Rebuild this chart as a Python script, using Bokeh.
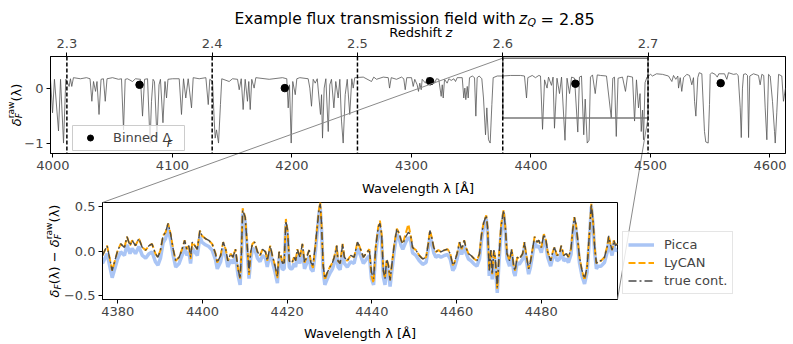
import math
from bokeh.plotting import figure
from bokeh.models import Range1d, FixedTicker, Span, Legend, LegendItem, LinearAxis
from bokeh.embed import file_html
from bokeh.resources import INLINE
from bokeh.core.properties import value

FONT = "DejaVu Sans"
LYA = 1215.67

# ---------------- data: raw flux-transmission field (top panel) ----------------
wave_a = [3998.0, 3999.7, 4001.3, 4004.7, 4006.4, 4008.9, 4010.8, 4013.6, 4014.7, 4015.8,
          4017.2, 4023.1, 4028.1, 4031.1, 4032.6, 4034.0, 4035.7, 4036.9, 4038.6, 4040.3,
          4042.3, 4043.8, 4045.3, 4049.9, 4054.9, 4057.4, 4059.1, 4060.5, 4062.4, 4066.6,
          4069.1, 4073.3, 4075.0, 4076.7, 4079.2, 4081.3, 4082.5, 4083.8, 4085.0, 4087.1,
          4088.8, 4090.0, 4092.1, 4093.8, 4095.1, 4096.3, 4100.1]
delta_a = [0.16, -0.45, 0.16, -0.78, 0.16, -1.0, 0.16, 0.03, 0.17, 0.03,
           0.19, 0.17, 0.19, 0.17, -0.24, 0.12, -0.06, 0.12, -0.48, 0.16,
           0.17, -0.24, 0.17, 0.19, 0.16, 0.17, -0.76, 0.16, 0.17, 0.12,
           0.17, 0.16, -0.51, 0.16, 0.17, -1.0, -0.24, 0.16, 0.12, -0.91,
           0.06, 0.16, -0.63, 0.12, -0.18, 0.16, 0.17]
wave_b = [4105.7, 4107.6, 4109.3, 4111.2, 4113.2, 4116.0, 4117.4, 4122.4, 4128.0, 4130.0,
          4131.3, 4133.6, 4135.0, 4135.8, 4136.9, 4138.6, 4140.2, 4141.3, 4147.5, 4150.3,
          4154.5, 4155.9, 4157.6, 4159.2, 4160.9, 4162.8, 4163.9, 4165.1, 4166.4, 4168.4,
          4169.8, 4181.0, 4192.1, 4195.7, 4196.9, 4198.0, 4199.4, 4200.7, 4202.8, 4204.1]
delta_b = [0.17, -0.48, 0.17, -0.18, 0.17, -0.36, 0.19, 0.17, 0.19, -0.30,
           0.16, 0.12, -0.60, -0.91, -0.76, -1.0, -0.30, 0.17, 0.12, 0.17,
           0.16, -0.03, 0.17, -0.39, 0.16, -0.24, 0.12, -0.39, 0.16, 0.0,
           0.19, 0.16, 0.19, 0.17, -0.36, 0.06, -1.0, 0.12, -0.12, 0.17]
wave_c = [4206.6, 4213.6, 4215.0, 4216.4, 4217.8, 4219.5, 4221.2, 4223.9, 4224.8, 4225.6,
          4227.0, 4228.4, 4230.4, 4231.7, 4233.1, 4235.1, 4236.7, 4238.7, 4240.1, 4241.5,
          4242.9, 4244.6, 4246.3, 4248.4, 4250.1, 4251.3, 4252.6, 4259.7, 4266.6, 4268.5,
          4270.8, 4276.4, 4280.6, 4281.7, 4283.1, 4287.5, 4291.7, 4293.6, 4294.8, 4296.1,
          4300.1, 4301.5, 4302.8, 4304.8, 4305.9, 4307.0, 4308.2]
delta_c = [0.19, 0.17, 0.0, -0.33, 0.16, 0.09, 0.17, -0.48, -0.12, -0.91,
           0.0, 0.17, -0.79, 0.06, 0.16, -0.36, 0.12, -0.18, 0.16, -0.60,
           -1.0, -0.12, 0.16, -0.48, 0.17, 0.0, 0.19, 0.20, 0.12, 0.20,
           0.16, 0.20, 0.19, 0.0, 0.19, 0.16, 0.20, 0.17, -0.03, 0.19,
           0.19, 0.03, 0.16, 0.06, -0.06, 0.09, -0.03]
wave_d = [4309.0, 4311.8, 4313.2, 4317.4, 4319.3, 4321.0, 4322.9, 4324.9, 4325.8, 4326.6,
          4327.7, 4329.9, 4331.3, 4333.3, 4335.5, 4336.9, 4338.3, 4342.5, 4343.8, 4344.7,
          4345.5, 4346.7, 4347.5, 4348.6, 4350.9, 4352.8, 4353.9, 4355.0, 4356.7, 4358.9,
          4360.3, 4362.0, 4363.1, 4364.5, 4365.9, 4367.3, 4368.4, 4371.8, 4376.0, 4382.9,
          4391.3, 4394.6, 4396.3, 4397.4, 4401.1, 4403.8, 4406.6]
delta_d = [0.16, 0.09, 0.19, 0.17, 0.09, 0.17, 0.16, -0.15, 0.06, -0.18,
           0.16, 0.09, 0.17, 0.14, 0.17, 0.12, 0.19, 0.19, -0.18, 0.0,
           -0.21, 0.03, -0.18, 0.19, 0.22, 0.19, -0.51, 0.19, 0.22, 0.17,
           -0.18, -0.85, -0.36, -0.94, -1.0, -0.30, 0.19, 0.22, 0.22, 0.23,
           0.23, 0.22, -0.18, 0.19, 0.23, 0.19, 0.23]
wave_e = [4408.0, 4409.7, 4411.4, 4413.5, 4414.7, 4417.2, 4418.5, 4419.7, 4421.8, 4423.9,
          4425.6, 4428.5, 4430.2, 4432.3, 4434.0, 4436.5, 4439.2, 4440.6, 4442.3, 4444.2,
          4445.4, 4447.1, 4448.6, 4449.8, 4451.5, 4453.8, 4455.5, 4458.2, 4463.2, 4467.2,
          4468.5, 4469.9, 4471.4, 4472.9, 4476.6, 4479.1, 4480.8, 4485.0, 4486.7, 4488.3,
          4490.0, 4491.3, 4492.3, 4493.4, 4494.2, 4495.5, 4497.1, 4500.1]
delta_e = [0.22, -0.75, 0.15, 0.0, 0.20, 0.05, 0.20, -0.73, 0.18, -0.10,
           0.20, -0.95, 0.18, -0.10, 0.20, 0.18, -0.80, 0.20, 0.22, -0.85,
           -0.20, -1.0, -0.95, 0.20, 0.24, -0.10, 0.24, 0.23, 0.22, -0.54,
           0.18, 0.20, -0.88, 0.18, 0.20, -0.06, 0.22, 0.20, -0.60, 0.15,
           -0.36, -0.10, -0.79, -0.40, -0.94, 0.10, 0.20, 0.25]
wave_f = [4501.7, 4505.1, 4510.1, 4515.1, 4517.9, 4519.3, 4521.2, 4522.9, 4523.5, 4524.9,
          4526.2, 4527.7, 4530.4, 4532.7, 4534.6, 4536.0, 4536.9, 4538.0, 4539.6, 4540.8,
          4543.0, 4545.2, 4546.3, 4548.3, 4549.4, 4550.0, 4551.3, 4554.2, 4555.9, 4557.2,
          4562.0, 4563.9, 4565.3, 4569.5, 4572.0, 4573.4, 4575.1, 4576.0, 4577.0, 4577.9,
          4579.8, 4581.2, 4582.1, 4583.1, 4586.2, 4590.4, 4591.8, 4593.2, 4594.8, 4596.0,
          4597.4, 4598.8, 4600.2, 4602.1, 4603.8, 4604.4, 4605.7, 4607.2, 4609.9, 4611.3,
          4613.0]
delta_f = [0.22, 0.26, 0.25, 0.22, 0.12, 0.23, 0.16, 0.22, 0.0, 0.19,
           -0.06, 0.19, 0.25, 0.23, 0.06, 0.19, -0.24, -0.51, 0.19, 0.28,
           0.26, -0.79, -0.98, -1.0, -0.30, 0.25, 0.28, 0.25, 0.20, 0.26,
           0.26, 0.16, 0.28, 0.25, 0.26, 0.23, -0.36, -0.90, 0.0, 0.25,
           0.26, 0.23, -0.90, 0.22, 0.26, 0.23, 0.06, 0.25, 0.23, -0.36,
           -0.94, 0.25, 0.22, -0.24, -0.79, -1.0, -0.45, 0.25, 0.22, -0.24,
           0.0]

bin_z = [2.35, 2.45, 2.55, 2.65, 2.75]
bin_delta = [0.06, 0.0, 0.125, 0.08, 0.09]

z_ticks = [2.3, 2.4, 2.5, 2.6, 2.7]
z_zoom = [2.6, 2.7]
wave_ticks = [4000, 4100, 4200, 4300, 4400, 4500, 4600]
delta_ticks = [-1, 0]
delta_tick_labels = ["\u22121", "0"]

# ---------------- data: zoomed residuals (bottom panel) ----------------
wave_zoom = [4376.4, 4377.5, 4378.7, 4379.9, 4380.7, 4381.6, 4382.2, 4382.9, 4383.4, 4384.2,
             4385.0, 4385.8, 4386.6, 4387.4, 4388.1, 4388.9, 4389.5, 4390.1, 4390.7, 4391.3,
             4391.9, 4392.5, 4393.1, 4393.7, 4394.5, 4395.2, 4395.8, 4396.3, 4396.8, 4397.2,
             4397.6, 4398.2, 4398.8, 4399.4, 4399.9, 4400.7, 4401.5, 4402.3, 4403.1, 4403.5,
             4404.3, 4404.9, 4405.5, 4406.0, 4406.7, 4407.2, 4407.8, 4408.4, 4408.9, 4409.2,
             4409.5, 4410.1, 4410.6, 4411.0, 4411.4, 4411.8, 4412.3, 4413.0, 4413.6, 4414.2,
             4414.9, 4415.3, 4416.0, 4416.5, 4417.1, 4417.7, 4418.1, 4418.5, 4418.9, 4419.3,
             4419.7, 4420.1, 4420.5, 4420.8, 4421.2, 4421.6, 4422.0, 4422.4, 4423.0, 4423.6,
             4424.1, 4424.6, 4425.2, 4425.6, 4426.1, 4426.7, 4427.1, 4427.5, 4427.8, 4428.1,
             4428.5, 4428.9, 4429.5, 4430.1, 4430.7, 4431.1, 4431.7, 4432.0, 4432.5, 4433.1,
             4433.5, 4434.2, 4435.0, 4435.8, 4436.6, 4437.0, 4437.4, 4438.0, 4438.6, 4439.4,
             4439.9, 4440.4, 4440.9, 4441.5, 4441.9, 4442.3, 4442.7, 4443.1, 4443.5, 4443.9,
             4444.3, 4444.6, 4445.3, 4445.9, 4446.5, 4446.9, 4447.3, 4448.0, 4448.6, 4449.1,
             4449.6, 4450.4, 4451.2, 4452.0, 4452.8, 4453.3, 4453.7, 4454.1, 4454.6, 4455.1,
             4455.7, 4456.3, 4457.1, 4457.9, 4458.5, 4459.1, 4459.5, 4460.1, 4460.7, 4461.2,
             4461.8, 4462.2, 4462.8, 4463.4, 4464.2, 4464.8, 4465.4, 4465.9, 4466.4, 4467.0,
             4467.3, 4467.7, 4468.1, 4468.4, 4468.8, 4469.1, 4469.6, 4470.0, 4470.5, 4471.1,
             4471.5, 4471.9, 4472.5, 4473.0, 4473.5, 4473.8, 4474.3, 4474.8, 4475.6, 4476.0,
             4476.4, 4477.0, 4477.4, 4478.0, 4478.4, 4479.0, 4479.4, 4480.0, 4480.6, 4481.1,
             4481.5, 4482.2, 4482.7, 4483.1, 4483.7, 4484.3, 4484.7, 4485.3, 4485.9, 4486.4,
             4487.0, 4487.4, 4487.8, 4488.2, 4488.6, 4489.0, 4489.6, 4490.2, 4490.8, 4491.4,
             4491.8, 4492.2, 4492.6, 4493.0, 4493.4, 4494.1, 4494.9, 4495.6, 4495.9, 4496.3,
             4496.7, 4497.1, 4497.5, 4498.0]
diff_true = [-0.05, 0.06, -0.22, -0.01, 0.08, 0.04, 0.16, 0.06, 0.12, 0.06,
             0.14, 0.04, 0.01, 0.06, 0.08, -0.03, -0.07, 0.01, 0.17, 0.21,
             0.31, 0.19, 0.02, -0.11, -0.07, 0.02, 0.12, 0.02, 0.06, -0.07,
             0.10, 0.06, 0.02, 0.23, 0.17, 0.14, 0.12, 0.08, -0.03, -0.13,
             -0.05, 0.10, 0.02, -0.11, -0.03, -0.07, 0.02, -0.20, -0.31, -0.03,
             0.46, 0.38, 0.04, -0.24, -0.01, 0.08, 0.10, -0.01, -0.05, 0.02,
             -0.01, -0.11, 0.06, -0.05, -0.16, -0.29, -0.01, -0.05, -0.14, -0.13,
             0.34, 0.23, -0.11, -0.13, -0.13, -0.07, -0.11, 0.02, -0.07, 0.08,
             -0.13, -0.07, 0.01, -0.13, -0.16, 0.08, 0.27, 0.46, 0.53, 0.31,
             -0.16, -0.31, -0.24, -0.18, -0.13, -0.07, 0.06, -0.11, -0.14, 0.08,
             -0.07, -0.11, -0.05, -0.07, 0.10, 0.06, 0.01, -0.07, -0.03, 0.02,
             -0.24, -0.31, 0.04, 0.27, 0.31, 0.19, -0.22, -0.31, -0.09, -0.16,
             -0.33, -0.20, 0.08, 0.25, 0.19, 0.12, 0.08, 0.16, 0.21, 0.19,
             0.04, 0.01, -0.05, -0.09, -0.07, 0.08, 0.23, 0.16, 0.04, -0.01,
             0.01, -0.01, 0.01, 0.02, -0.03, -0.16, -0.13, -0.03, 0.10, 0.02,
             0.12, 0.04, -0.03, -0.05, -0.09, -0.11, -0.03, 0.19, 0.32, 0.40,
             0.27, -0.22, 0.01, -0.26, 0.01, -0.07, -0.41, -0.07, 0.27, 0.46,
             0.27, -0.03, -0.11, 0.02, -0.18, -0.22, -0.07, -0.09, -0.03, 0.10,
             -0.03, -0.20, -0.13, 0.04, 0.16, 0.10, 0.12, 0.04, 0.19, 0.12,
             -0.01, -0.11, -0.01, 0.04, -0.05, -0.03, 0.06, -0.05, -0.03, -0.07,
             0.02, 0.23, 0.38, 0.29, 0.12, -0.07, -0.22, -0.31, -0.18, 0.23,
             0.53, 0.34, 0.04, -0.14, -0.11, -0.11, -0.07, 0.06, 0.17, 0.08,
             0.01, 0.12, 0.06, 0.08]
diff_lycan = [-0.05, 0.06, -0.22, -0.01, 0.08, 0.04, 0.16, 0.06, 0.12, 0.06,
              0.14, 0.04, 0.01, 0.06, 0.08, -0.03, -0.07, 0.01, 0.17, 0.21,
              0.31, 0.19, 0.02, -0.11, -0.07, 0.02, 0.12, 0.02, 0.06, -0.09,
              0.10, 0.06, 0.02, 0.23, 0.17, 0.14, 0.12, 0.08, -0.03, -0.13,
              -0.05, 0.10, 0.02, -0.11, -0.03, -0.07, 0.02, -0.20, -0.31, -0.03,
              0.48, 0.38, 0.04, -0.27, -0.01, 0.08, 0.10, -0.01, -0.05, 0.02,
              -0.01, -0.11, 0.06, -0.05, -0.16, -0.31, -0.01, -0.05, -0.14, -0.13,
              0.36, 0.23, -0.11, -0.13, -0.13, -0.07, -0.11, 0.02, -0.07, 0.08,
              -0.13, -0.07, 0.01, -0.13, -0.19, 0.08, 0.27, 0.46, 0.55, 0.31,
              -0.16, -0.33, -0.24, -0.18, -0.13, -0.07, 0.06, -0.11, -0.14, 0.08,
              -0.07, -0.11, -0.05, -0.07, 0.10, 0.06, 0.01, -0.07, -0.03, 0.02,
              -0.28, -0.36, 0.04, 0.27, 0.34, 0.19, -0.22, -0.31, -0.09, -0.16,
              -0.33, -0.20, 0.08, 0.25, 0.19, 0.12, 0.08, 0.20, 0.30, 0.19,
              0.04, 0.01, -0.05, -0.09, -0.07, 0.08, 0.23, 0.16, 0.04, -0.01,
              0.01, -0.01, 0.01, 0.02, -0.03, -0.16, -0.13, -0.03, 0.10, 0.02,
              0.12, 0.04, -0.03, -0.05, -0.09, -0.11, -0.03, 0.19, 0.32, 0.40,
              0.27, -0.22, 0.01, -0.26, 0.01, -0.07, -0.43, -0.07, 0.30, 0.46,
              0.27, -0.03, -0.11, 0.02, -0.18, -0.22, -0.07, -0.09, -0.03, 0.10,
              -0.03, -0.20, -0.13, 0.04, 0.16, 0.10, 0.12, 0.04, 0.19, 0.12,
              -0.01, -0.11, -0.01, 0.04, -0.05, -0.03, 0.06, -0.05, -0.03, -0.07,
              0.02, 0.23, 0.38, 0.29, 0.12, -0.07, -0.22, -0.33, -0.18, 0.23,
              0.53, 0.34, 0.04, -0.14, -0.11, -0.11, -0.07, 0.06, 0.17, 0.08,
              0.01, 0.12, 0.06, 0.08]
diff_picca = [-0.14, -0.03, -0.30, -0.10, -0.01, -0.05, 0.07, -0.03, 0.03, -0.03,
              0.05, -0.05, -0.08, -0.03, -0.01, -0.12, -0.16, -0.08, 0.09, 0.14,
              0.26, 0.12, -0.05, -0.18, -0.14, -0.05, 0.05, -0.05, -0.01, -0.14,
              0.03, -0.01, -0.05, 0.16, 0.10, 0.07, 0.05, 0.01, -0.10, -0.20,
              -0.12, 0.03, -0.05, -0.18, -0.10, -0.14, -0.05, -0.27, -0.38, -0.10,
              0.42, 0.33, -0.03, -0.31, -0.08, 0.01, 0.03, -0.08, -0.12, -0.05,
              -0.08, -0.18, -0.01, -0.12, -0.23, -0.36, -0.08, -0.12, -0.21, -0.20,
              0.30, 0.16, -0.18, -0.20, -0.20, -0.14, -0.18, -0.05, -0.14, 0.01,
              -0.20, -0.14, -0.06, -0.20, -0.23, 0.01, 0.21, 0.42, 0.50, 0.26,
              -0.23, -0.38, -0.31, -0.25, -0.20, -0.14, -0.01, -0.18, -0.21, 0.01,
              -0.14, -0.18, -0.12, -0.14, 0.03, -0.01, -0.06, -0.14, -0.10, -0.05,
              -0.31, -0.38, -0.03, 0.21, 0.26, 0.12, -0.29, -0.38, -0.16, -0.23,
              -0.40, -0.27, 0.01, 0.19, 0.13, 0.06, 0.02, 0.10, 0.15, 0.13,
              -0.02, -0.05, -0.11, -0.15, -0.13, 0.02, 0.17, 0.10, -0.02, -0.07,
              -0.05, -0.07, -0.05, -0.04, -0.09, -0.22, -0.19, -0.09, 0.04, -0.04,
              0.06, -0.02, -0.09, -0.11, -0.15, -0.17, -0.09, 0.13, 0.28, 0.36,
              0.21, -0.28, -0.05, -0.32, -0.05, -0.13, -0.47, -0.13, 0.21, 0.42,
              0.21, -0.09, -0.17, -0.04, -0.24, -0.28, -0.13, -0.15, -0.09, 0.04,
              -0.09, -0.26, -0.19, -0.02, 0.10, 0.04, 0.06, -0.02, 0.13, 0.06,
              -0.07, -0.17, -0.07, -0.02, -0.11, -0.09, 0.00, -0.11, -0.09, -0.13,
              -0.04, 0.17, 0.34, 0.23, 0.06, -0.13, -0.28, -0.37, -0.24, 0.17,
              0.50, 0.30, -0.02, -0.20, -0.17, -0.17, -0.13, 0.00, 0.11, 0.02,
              -0.05, 0.06, 0.00, 0.02]
zoom_wave_ticks = [4380, 4400, 4420, 4440, 4460, 4480]
zoom_delta_ticks = [-0.5, 0.0, 0.5]
zoom_delta_tick_labels = ["\u22120.5", "0.0", "0.5"]

wave_range = (3998.0, 4613.0)
delta_range = (-1.19, 0.575)
zoom_delta_range = (-0.545, 0.545)

wave = wave_a + wave_b + wave_c + wave_d + wave_e + wave_f
delta_raw = delta_a + delta_b + delta_c + delta_d + delta_e + delta_f
zoom_lo = LYA * (1 + z_zoom[0])
zoom_hi = LYA * (1 + z_zoom[1])

# ---------------- layout geometry (page pixel coordinates) ----------------
P1_H = 196
G1 = dict(L=50, R=785, T=56, B=153, x0=wave_range[0], x1=wave_range[1],
          y0=delta_range[0], y1=delta_range[1])
G2 = dict(L=102, R=617, T=P1_H + 6, B=P1_H + 103, x0=zoom_lo, x1=zoom_hi,
          y0=zoom_delta_range[0], y1=zoom_delta_range[1])


def to_data(g, wx, wy):
    x = g["x0"] + (wx - g["L"]) / (g["R"] - g["L"]) * (g["x1"] - g["x0"])
    y = g["y1"] - (wy - g["T"]) / (g["B"] - g["T"]) * (g["y1"] - g["y0"])
    return x, y


def to_win(g, x, y):
    wx = g["L"] + (x - g["x0"]) / (g["x1"] - g["x0"]) * (g["R"] - g["L"])
    wy = g["T"] + (g["y1"] - y) / (g["y1"] - g["y0"]) * (g["B"] - g["T"])
    return wx, wy


def txt(p, g, wx, wy, s, size, style="normal", align="left", angle=0.0):
    x, y = to_data(g, wx, wy)
    p.text(x=[x], y=[y], text=[s], angle=angle, text_align=align,
           text_baseline="alphabetic", text_font=value(FONT),
           text_font_size=f"{size}px", text_font_style=style,
           text_color="black", level="overlay")


def style_axis(ax, ticks, labels=None, standoff=3):
    ax.ticker = FixedTicker(ticks=ticks)
    if labels is not None:
        ax.major_label_overrides = {t: l for t, l in zip(ticks, labels)}
    ax.major_tick_out = 4
    ax.major_tick_in = 0
    ax.minor_tick_out = 0
    ax.minor_tick_in = 0
    ax.major_tick_line_width = 1
    ax.axis_line_width = 1
    ax.major_label_text_font = FONT
    ax.major_label_text_font_size = "13px"
    ax.major_label_standoff = standoff


# ---------------- top figure ----------------
p1 = figure(frame_width=735, frame_height=97, min_border_left=50, min_border_right=8,
            min_border_top=56, min_border_bottom=P1_H - 153,
            x_range=Range1d(*wave_range), y_range=Range1d(*delta_range),
            output_backend="svg", toolbar_location=None, tools="")
p1.xgrid.visible = False
p1.ygrid.visible = False
p1.outline_line_color = "black"
p1.outline_line_width = 1
style_axis(p1.xaxis[0], wave_ticks)
style_axis(p1.yaxis[0], delta_ticks, delta_tick_labels)

z_wave = [LYA * (1 + z) for z in z_ticks]
top_ax = LinearAxis()
style_axis(top_ax, z_wave, [f"{z:.1f}" for z in z_ticks], standoff=5)
p1.add_layout(top_ax, "above")

for zw in z_wave:
    p1.add_layout(Span(location=zw, dimension="height", line_color="black",
                       line_dash="4 2", line_width=1.5))

p1.line(wave, delta_raw, line_color="#555555", line_width=0.8)

p1.quad(left=[zoom_lo], right=[zoom_hi], bottom=[zoom_delta_range[0]],
        top=[zoom_delta_range[1]], fill_alpha=0, line_color="#7a7a7a", line_width=1.5)

r_bin = p1.scatter([LYA * (1 + z) for z in bin_z], bin_delta, size=7.5,
                   fill_color="black", line_color="black")

# legend frame (semi-transparent white box) drawn under a transparent Bokeh legend,
# so that the subscript of the label can be drawn on top
bx0, by0 = to_data(G1, 72, 150)
bx1, by1 = to_data(G1, 184, 125)
p1.quad(left=[bx0], right=[bx1], bottom=[by0], top=[by1], fill_color="white",
        fill_alpha=0.8, line_color="#cccccc", line_width=1, level="guide")
leg1 = Legend(items=[LegendItem(label="Binned \u0394", renderers=[r_bin])],
              location=(22, 3), label_text_font=FONT, label_text_font_size="13px",
              glyph_width=26, glyph_height=15, label_height=15, label_standoff=10,
              padding=5, spacing=0, margin=0, border_line_alpha=0,
              background_fill_alpha=0)
p1.add_layout(leg1)

# ---------------- bottom figure ----------------
p2 = figure(frame_width=515, frame_height=97, min_border_left=102, min_border_right=140,
            min_border_top=6, min_border_bottom=45,
            x_range=Range1d(zoom_lo, zoom_hi), y_range=Range1d(*zoom_delta_range),
            output_backend="svg", toolbar_location=None, tools="")
p2.xgrid.visible = False
p2.ygrid.visible = False
p2.outline_line_color = "black"
p2.outline_line_width = 1
style_axis(p2.xaxis[0], zoom_wave_ticks)
style_axis(p2.yaxis[0], zoom_delta_ticks, zoom_delta_tick_labels)

r_p = p2.line(wave_zoom, diff_picca, line_color="cornflowerblue", line_alpha=0.55,
              line_width=3.5)
r_l = p2.line(wave_zoom, diff_lycan, line_color="orange", line_width=2,
              line_dash="7 3")
r_t = p2.line(wave_zoom, diff_true, line_color="#4a4a4a", line_width=1.4,
              line_dash="8 3 2 3")

leg2 = Legend(items=[LegendItem(label="Picca", renderers=[r_p]),
                     LegendItem(label="LyCAN", renderers=[r_l]),
                     LegendItem(label="true cont.", renderers=[r_t])],
              location=(5, 5), label_text_font=FONT, label_text_font_size="13px",
              glyph_width=26, glyph_height=15, label_height=15, label_standoff=10,
              padding=5, spacing=3, margin=0, border_line_color="#cccccc",
              border_line_width=1, background_fill_alpha=0.8)
p2.add_layout(leg2, "right")

# ---------------- zoom connectors ----------------
A = to_win(G1, zoom_lo, zoom_delta_range[1])
Bc = (G2["L"], G2["T"])
C = to_win(G1, zoom_hi, zoom_delta_range[0])
Dc = (G2["R"], G2["B"])
for (s, e) in [(A, Bc), (C, Dc)]:
    x0, y0 = to_data(G1, *s)
    x1, y1 = to_data(G1, *e)
    p1.segment(x0=[x0], y0=[y0], x1=[x1], y1=[y1], line_color="#8a8a8a",
               line_width=1, level="guide")
    x0, y0 = to_data(G2, *s)
    x1, y1 = to_data(G2, *e)
    p2.segment(x0=[x0], y0=[y0], x1=[x1], y1=[y1], line_color="#8a8a8a",
               line_width=1, level="guide")

# ---------------- texts ----------------
txt(p1, G1, 515.0, 18.5, "Example flux transmission field with", 15.5, align="right")
txt(p1, G1, 518.5, 18.5, "z", 15.5, style="italic")
txt(p1, G1, 527.0, 21.7, "Q", 10.9, style="italic")
txt(p1, G1, 540.0, 18.5, "= 2.85", 16)
txt(p1, G1, 441.5, 31.5, "Redshift", 13, align="right")
txt(p1, G1, 445.0, 31.5, "z", 13, style="italic")
txt(p1, G1, 417.5, 188.0, "Wavelength \u03bb [\u00c5]", 13, align="center")
txt(p2, G2, 359.5, 332.5, "Wavelength \u03bb [\u00c5]", 13, align="center")
txt(p1, G1, 166.5, 142.8, "F", 9.5, style="italic")

ROT = math.pi / 2
bx, cy, tot = 15.5, 104.5, 42.6
s0 = cy + tot / 2
txt(p1, G1, bx, s0, "\u03b4", 13, style="italic", angle=ROT)
txt(p1, G1, bx + 3, s0 - 8.0, "F", 9.1, style="italic", angle=ROT)
txt(p1, G1, bx - 5.5, s0 - 8.0, "raw", 9.1, angle=ROT)
txt(p1, G1, bx, s0 - 24.8, "(\u03bb)", 13, angle=ROT)
bx, cy, tot = 54.0, G2["T"] + 48.5, 92.8
s0 = cy + tot / 2
txt(p2, G2, bx, s0, "\u03b4", 13, style="italic", angle=ROT)
txt(p2, G2, bx + 3, s0 - 8.0, "F", 9.1, style="italic", angle=ROT)
txt(p2, G2, bx, s0 - 13.2, "(\u03bb) \u2212", 13, angle=ROT)
txt(p2, G2, bx, s0 - 50.2, "\u03b4", 13, style="italic", angle=ROT)
txt(p2, G2, bx + 3, s0 - 58.2, "F", 9.1, style="italic", angle=ROT)
txt(p2, G2, bx - 5.5, s0 - 58.2, "raw", 9.1, angle=ROT)
txt(p2, G2, bx, s0 - 75.0, "(\u03bb)", 13, angle=ROT)

open("out.html", "w").write(file_html([p1, p2], INLINE))
